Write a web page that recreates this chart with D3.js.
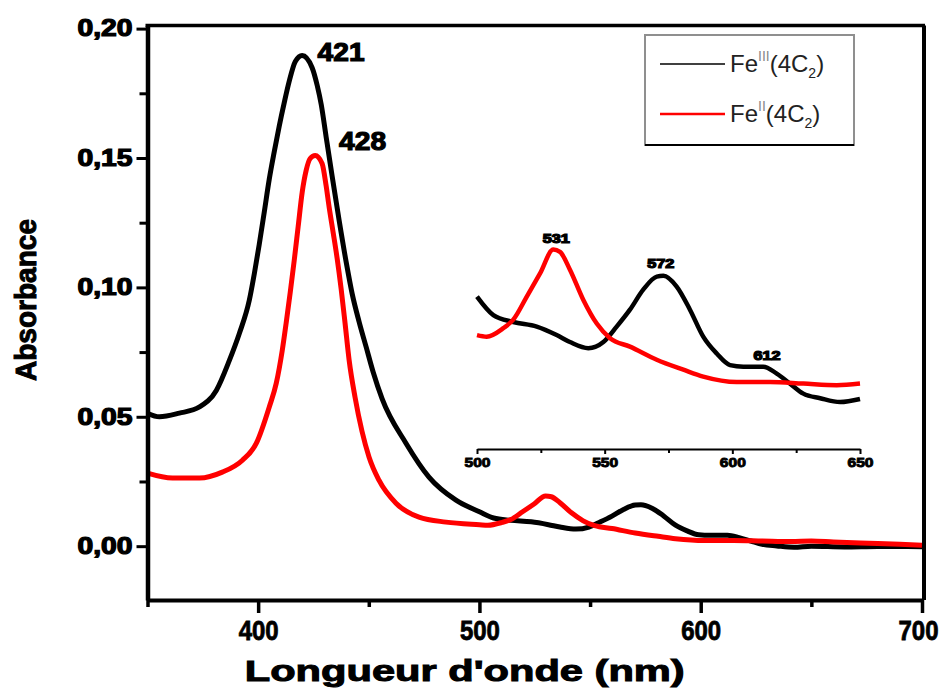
<!DOCTYPE html>
<html>
<head>
<meta charset="utf-8">
<script src="https://cdn.jsdelivr.net/npm/d3@7"></script>
<style>
  html, body { margin: 0; padding: 0; background: #fff; }
  svg { display: block; }
</style>
</head>
<body>
<svg id="chart" width="947" height="691"></svg>
<script>
// ---- Data ----
const feIII_nm = [350, 355.4, 364.4, 373.5, 381.1, 387, 391.5, 396, 398.3, 400.5, 402.8, 405, 407.3, 409.5, 411.8, 414, 416.8, 419.9, 424.4, 426.7, 428.5, 430.7, 433.4, 436.6, 439.8, 442.5, 445.6, 448.8, 452, 456, 466.8, 477.2, 489.4,
  500, 506.4, 514.2, 523.4, 531.2, 536.4, 543.6, 549.5, 554.7, 559.9, 565.1, 570.4, 573, 578.2, 583.4, 588.6, 593.9, 599.1, 604.3, 612.1, 617.4, 622.6, 627.8, 634.4, 642.2, 650, 665, 680, 700];
const feIII_abs = [0.0514, 0.0500, 0.0514, 0.0538, 0.0602, 0.0718, 0.0822, 0.0950, 0.1054, 0.1166, 0.1293, 0.1417, 0.1525, 0.1622, 0.1714, 0.1795, 0.1873, 0.1896, 0.1849, 0.1780, 0.1707, 0.1583, 0.1432, 0.1259, 0.1097, 0.0975, 0.0868, 0.0770, 0.0672, 0.0570, 0.0398, 0.0267, 0.0178,
  0.0133, 0.0109, 0.0100, 0.0094, 0.0083, 0.0074, 0.0066, 0.0074, 0.0094, 0.0116, 0.0142, 0.0159, 0.0160, 0.0146, 0.0116, 0.0081, 0.0059, 0.0044, 0.0042, 0.0042, 0.0033, 0.0020, 0.0007, 0.0001, -0.0004, 0.0000, -0.0003, -0.0001, -0.0002];

const feII_nm = [350, 361.3, 373.5, 383.8, 392.9, 399.2, 405, 408.2, 410.9, 412.7, 414.5, 416.3, 418.1, 419.9, 421.7, 423.5, 425.8, 428.9, 430.7, 432.1, 433.9, 435.7, 437.5, 439.3, 441.1, 443.8, 446.9, 450.1, 454.6, 462.3, 472.7, 484.9,
  500, 503.8, 510.3, 514.2, 519.5, 524.7, 529.9, 532.5, 536.4, 541.6, 546.9, 552.1, 559.9, 570.4, 580.8, 588.6, 601.7, 614.8, 627.8, 640.9, 650, 660, 680, 700];
const feII_abs = [0.0282, 0.0263, 0.0263, 0.0286, 0.0332, 0.0398, 0.0537, 0.0630, 0.0757, 0.0865, 0.0981, 0.1104, 0.1236, 0.1367, 0.1452, 0.1498, 0.1510, 0.1479, 0.1394, 0.1309, 0.1212, 0.1112, 0.0995, 0.0860, 0.0720, 0.0575, 0.0445, 0.0345, 0.0255, 0.0166, 0.0112, 0.0093,
  0.0083, 0.0081, 0.0092, 0.0103, 0.0133, 0.0163, 0.0194, 0.0191, 0.0168, 0.0129, 0.0098, 0.0079, 0.0068, 0.0051, 0.0038, 0.0029, 0.0022, 0.0022, 0.0020, 0.0018, 0.0020, 0.0016, 0.0010, 0.0004];

const xMajorTicks = [400, 500, 600, 700];
const xMinorTicks = [350, 450, 550, 650];
const yMajorTicks = [0, 0.05, 0.10, 0.15, 0.20];
const yMinorTicks = [0.025, 0.075, 0.125, 0.175];
const yTickLabels = ["0,00", "0,05", "0,10", "0,15", "0,20"];

const insetMajorTicks = [500, 550, 600, 650];
const insetMinorTicks = [525, 575, 625];
const mainPeaks = [{nm: 421, label: "421", series: "III"}, {nm: 428, label: "428", series: "II"}];
const insetPeaks = [{nm: 531, label: "531", series: "II"}, {nm: 572, label: "572", series: "III"}, {nm: 612, label: "612", series: "III"}];

const seriesNames = ["III", "II"];
const seriesColors = ["#000000", "#ff0000"];

// ---- Layout ----
const svg = d3.select("#chart");
const L = 147.5, R = 922, T = 25.5, B = 600;

const x = d3.scaleLinear().domain([350, 700]).range([L, R]);
const y = d3.scaleLinear().domain([-0.0208, 0.2012]).range([B, T]);

const fontTick = "'Liberation Sans Narrow', 'Liberation Sans', Arial, sans-serif";

const feIII = feIII_nm.map((d, i) => ({nm: d, a: feIII_abs[i]}));
const feII = feII_nm.map((d, i) => ({nm: d, a: feII_abs[i]}));

// Lines (main)
const line = d3.line().x(d => x(d.nm)).y(d => y(d.a)).curve(d3.curveMonotoneX);
svg.append("path").datum(feIII).attr("d", line)
  .attr("fill", "none").attr("stroke", seriesColors[0]).attr("stroke-width", 5).attr("stroke-linejoin", "round");
svg.append("path").datum(feII).attr("d", line)
  .attr("fill", "none").attr("stroke", seriesColors[1]).attr("stroke-width", 5).attr("stroke-linejoin", "round");

// Frame (top + right)
svg.append("line").attr("x1", L - 2).attr("x2", R + 3).attr("y1", T).attr("y2", T).attr("stroke", "#000").attr("stroke-width", 3.5);
svg.append("line").attr("x1", R + 2).attr("x2", R + 2).attr("y1", T).attr("y2", B).attr("stroke", "#000").attr("stroke-width", 4);

// X axis
const gx = svg.append("g").attr("transform", `translate(0,${B})`);
gx.call(d3.axisBottom(x).tickValues(xMajorTicks).tickSize(13).tickSizeOuter(0).tickFormat(d3.format("d")));
gx.select(".domain").attr("stroke-width", 4);
gx.selectAll(".tick line").attr("stroke-width", 3.5);
gx.selectAll(".tick text").attr("y", 21).attr("dy", "0.71em")
  .attr("font-family", fontTick).attr("font-weight", "bold").attr("font-size", 27)
  .attr("stroke", "#000").attr("stroke-width", 0.8)
  .attr("textLength", 40).attr("lengthAdjust", "spacingAndGlyphs")
  .attr("dx", d => d === 700 ? -4 : 0);
const gxm = svg.append("g").attr("transform", `translate(0,${B})`);
gxm.call(d3.axisBottom(x).tickValues(xMinorTicks).tickSize(7).tickFormat(""));
gxm.select(".domain").remove();
gxm.selectAll(".tick line").attr("stroke-width", 3.5);

// Y axis
const gy = svg.append("g").attr("transform", `translate(${L},0)`);
gy.call(d3.axisLeft(y).tickValues(yMajorTicks).tickSize(11).tickSizeOuter(0).tickFormat((d, i) => yTickLabels[i]));
gy.select(".domain").attr("stroke-width", 4.5);
gy.selectAll(".tick line").attr("stroke-width", 3);
gy.selectAll(".tick text").attr("x", -15)
  .attr("font-family", "'Liberation Sans', Arial, sans-serif").attr("font-weight", "bold").attr("font-size", 23)
  .attr("stroke", "#000").attr("stroke-width", 1.2)
  .attr("textLength", 55).attr("lengthAdjust", "spacingAndGlyphs");
const gym = svg.append("g").attr("transform", `translate(${L},0)`);
gym.call(d3.axisLeft(y).tickValues(yMinorTicks).tickSize(8).tickFormat(""));
gym.select(".domain").remove();
gym.selectAll(".tick line").attr("stroke-width", 3);

// Axis titles
svg.append("text").attr("x", (L + R) / 2 - 70).attr("y", 681).attr("text-anchor", "middle")
  .attr("font-family", fontTick).attr("font-weight", "bold").attr("font-size", 30)
  .attr("stroke", "#000").attr("stroke-width", 1)
  .attr("textLength", 440).attr("lengthAdjust", "spacingAndGlyphs")
  .text("Longueur d'onde (nm)");
svg.append("text").attr("transform", "translate(36,300) rotate(-90)").attr("text-anchor", "middle")
  .attr("font-family", fontTick).attr("font-weight", "bold").attr("font-size", 30)
  .attr("stroke", "#000").attr("stroke-width", 1)
  .attr("textLength", 162).attr("lengthAdjust", "spacingAndGlyphs")
  .text("Absorbance");

// Peak labels (main)
const peakFont = "'Liberation Sans', Arial, sans-serif";
const peakOffsets = {"421": [13, 0], "428": [19, -10]};
mainPeaks.forEach(p => {
  const data = p.series === "III" ? feIII : feII;
  const top = d3.max(data, d => d.a);
  const o = peakOffsets[p.label];
  svg.append("text").attr("x", x(p.nm) + o[0]).attr("y", y(top) + o[1] + 5)
    .attr("font-family", peakFont).attr("font-weight", "bold").attr("font-size", 26)
    .attr("stroke", "#000").attr("stroke-width", 1.2)
    .attr("textLength", 47).attr("lengthAdjust", "spacingAndGlyphs")
    .text(p.label);
});

// ---- Inset ----
const xIn = d3.scaleLinear().domain([500, 650]).range([477, 860]);
const yIn = d3.scaleLinear().domain([0, 0.02]).range([399, 245]);
const insetAxisY = 449;
const lineIn = d3.line().x(d => xIn(d.nm)).y(d => yIn(d.a)).curve(d3.curveMonotoneX);
const inRange = d => d.nm >= 500 && d.nm <= 650;
svg.append("path").datum(feIII.filter(inRange)).attr("d", lineIn)
  .attr("fill", "none").attr("stroke", seriesColors[0]).attr("stroke-width", 4.5).attr("stroke-linejoin", "round");
svg.append("path").datum(feII.filter(inRange)).attr("d", lineIn)
  .attr("fill", "none").attr("stroke", seriesColors[1]).attr("stroke-width", 4.5).attr("stroke-linejoin", "round");

const gIn = svg.append("g").attr("transform", `translate(0,${insetAxisY})`);
gIn.call(d3.axisBottom(xIn).tickValues(insetMajorTicks).tickSize(5).tickSizeOuter(0).tickFormat(d3.format("d")));
gIn.select(".domain").attr("stroke-width", 2);
gIn.selectAll(".tick line").attr("stroke-width", 2);
gIn.selectAll(".tick text").attr("y", 9).attr("dy", "0.71em")
  .attr("font-family", peakFont).attr("font-weight", "bold").attr("font-size", 13)
  .attr("stroke", "#000").attr("stroke-width", 0.9)
  .attr("textLength", 26).attr("lengthAdjust", "spacingAndGlyphs");
const gInm = svg.append("g").attr("transform", `translate(0,${insetAxisY})`);
gInm.call(d3.axisBottom(xIn).tickValues(insetMinorTicks).tickSize(4).tickFormat(""));
gInm.select(".domain").remove();
gInm.selectAll(".tick line").attr("stroke-width", 2);

const insetLabelY = {"531": 243, "572": 268, "612": 360};
insetPeaks.forEach(p => {
  svg.append("text").attr("x", xIn(p.nm) + (p.label === "612" ? 4 : 0)).attr("y", insetLabelY[p.label])
    .attr("text-anchor", "middle")
    .attr("font-family", peakFont).attr("font-weight", "bold").attr("font-size", 12)
    .attr("stroke", "#000").attr("stroke-width", 1.2)
    .attr("textLength", 27).attr("lengthAdjust", "spacingAndGlyphs")
    .text(p.label);
});

// ---- Legend ----
const lg = svg.append("g");
lg.append("rect").attr("x", 645).attr("y", 35).attr("width", 209).attr("height", 110)
  .attr("fill", "#fff").attr("stroke", "#8f8f8f").attr("stroke-width", 2);
lg.append("line").attr("x1", 645).attr("x2", 854).attr("y1", 145).attr("y2", 145).attr("stroke", "#000").attr("stroke-width", 2);
const legendRows = [{y: 64, sup: "III"}, {y: 114, sup: "II"}];
legendRows.forEach((r, i) => {
  lg.append("line").attr("x1", 660).attr("x2", 725).attr("y1", r.y).attr("y2", r.y)
    .attr("stroke", seriesColors[i]).attr("stroke-width", i === 0 ? 1.5 : 2.5);
  const t = lg.append("text").attr("x", 730).attr("y", r.y + 8)
    .attr("font-family", "'Liberation Sans', Arial, sans-serif").attr("font-size", 24).attr("fill", "#222");
  t.append("tspan").text("Fe" );
  t.append("tspan").attr("dy", -11).attr("font-size", 14).attr("fill", "#888").text(r.sup);
  t.append("tspan").attr("dy", 11).text("(4C");
  t.append("tspan").attr("dy", 6).attr("font-size", 14).text("2");
  t.append("tspan").attr("dy", -6).text(")");
});
</script>
</body>
</html>
